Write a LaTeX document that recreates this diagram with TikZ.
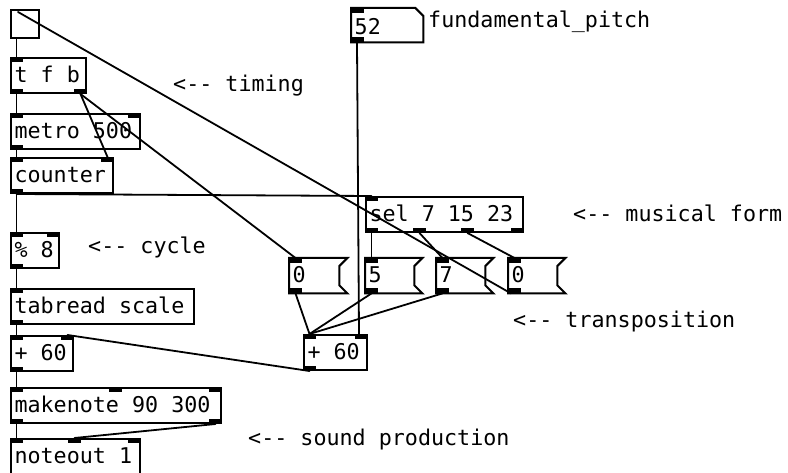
\documentclass[tikz,border=0pt]{standalone}
\usepackage{fontspec}
\newfontfamily\pdfont{DejaVu Sans Mono}
\newcommand\pdt[2]{\makebox[#1][l]{#2}}
\newcommand\pdin[2]{\fill ([xshift=#2]#1.north west) rectangle ++(13pt,-5pt);}
\newcommand\pdinR[1]{\fill ([xshift=-13pt]#1.north east) rectangle ++(13pt,-5pt);}
\newcommand\pdout[2]{\fill ([xshift=#2]#1.south west) rectangle ++(13pt,5pt);}
\newcommand\pdoutR[1]{\fill ([xshift=-13pt]#1.south east) rectangle ++(13pt,5pt);}
\newcommand\msgshape[1]{\draw[boxline] (#1.north west) -- (#1.north east) -- ([xshift=-8pt,yshift=-8pt]#1.north east) -- ([xshift=-8pt,yshift=8pt]#1.south east) -- (#1.south east) -- (#1.south west) -- cycle;}
\newcommand\numshape[1]{\draw[boxline] (#1.north west) -- ([xshift=-8pt]#1.north east) -- ([yshift=-8pt]#1.north east) -- (#1.south east) -- (#1.south west) -- cycle;}
\tikzset{
  pdtext/.style={font=\pdfont\fontsize{21.7}{24}\selectfont},
  boxline/.style={line width=2pt, line join=miter},
  objbox/.style={pdtext, draw=black, boxline, anchor=north west, inner xsep=3.5pt, inner ysep=0pt, text height=18pt, text depth=4pt, minimum height=35pt},
  msgbox/.style={pdtext, draw=none, anchor=north west, inner xsep=3.5pt, inner ysep=0pt, text height=18pt, text depth=4pt, minimum height=35pt},
  comment/.style={pdtext, anchor=base west, inner sep=0pt},
  wire/.style={line width=1.8pt, line cap=round},
}
\begin{document}
\begin{tikzpicture}[x=1pt, y=-1pt]
\useasboundingbox (0,0) rectangle (788,473);
\fill[white] (0,0) rectangle (788,473);

% objects
\node[draw=black, boxline, anchor=north west, inner sep=0pt, minimum size=28pt] (bang) at (10,9) {};
\node[objbox] (tfb) at (10,57) {\pdt{68pt}{t f b}};
\node[objbox] (metro) at (10,113) {\pdt{122pt}{metro 500}};
\node[objbox] (counter) at (10,157) {\pdt{95pt}{counter}};
\node[objbox] (mod) at (10,232) {\pdt{41pt}{\% 8}};
\node[objbox] (tabread) at (10,288) {\pdt{176pt}{tabread scale}};
\node[objbox] (plusL) at (10,335) {\pdt{55pt}{+ 60}};
\node[objbox] (makenote) at (10,387) {\pdt{203pt}{makenote 90 300}};
\node[objbox] (noteout) at (10,438) {\pdt{122pt}{noteout 1}};
\node[msgbox, text height=20pt, text depth=2pt, minimum height=34pt] (num) at (351,8) {\pdt{65pt}{52}};
\numshape{num}
\node[objbox] (sel) at (365,196) {\pdt{150pt}{sel 7 15 23}};
\node[msgbox] (msgA) at (289,258) {\pdt{51pt}{0}};
\node[msgbox] (msgB) at (365,258) {\pdt{50pt}{5}};
\node[msgbox] (msgC) at (436,258) {\pdt{50pt}{7}};
\node[msgbox] (msgD) at (508,258) {\pdt{50pt}{0}};
\msgshape{msgA}
\msgshape{msgB}
\msgshape{msgC}
\msgshape{msgD}
\node[objbox] (plusR) at (303,334) {\pdt{56pt}{+ 60}};

% inlets and outlets
\pdin{tfb}{0pt} \pdout{tfb}{0pt} \pdoutR{tfb}
\pdin{metro}{0pt} \pdinR{metro} \pdout{metro}{0pt}
\pdin{counter}{0pt} \pdinR{counter} \pdout{counter}{0pt}
\pdin{mod}{0pt} \pdinR{mod} \pdout{mod}{0pt}
\pdin{tabread}{0pt} \pdout{tabread}{0pt}
\pdin{plusL}{0pt} \pdinR{plusL} \pdout{plusL}{0pt}
\pdin{makenote}{0pt} \pdin{makenote}{98.5pt} \pdinR{makenote} \pdout{makenote}{0pt} \pdoutR{makenote}
\pdin{noteout}{0pt} \pdin{noteout}{58pt} \pdinR{noteout}
\pdin{num}{0pt} \pdout{num}{0pt}
\pdin{sel}{0pt} \pdout{sel}{0pt} \pdout{sel}{48pt} \pdout{sel}{96pt} \pdoutR{sel}
\pdin{msgA}{0pt} \pdout{msgA}{0pt}
\pdin{msgB}{0pt} \pdout{msgB}{0pt}
\pdin{msgC}{0pt} \pdout{msgC}{0pt}
\pdin{msgD}{0pt} \pdout{msgD}{0pt}
\pdin{plusR}{0pt} \pdinR{plusR} \pdout{plusR}{0pt}

% connections
\draw[wire] ([xshift=6.5pt]bang.south west) -- ([xshift=6.5pt]tfb.north west);
\draw[wire] ([xshift=6.5pt]tfb.south west) -- ([xshift=6.5pt]metro.north west);
\draw[wire] ([xshift=-6.5pt]tfb.south east) -- ([xshift=-6.5pt]counter.north east);
\draw[wire] ([xshift=-6.5pt]tfb.south east) -- ([xshift=6.5pt]msgA.north west);
\draw[wire] ([xshift=6.5pt]metro.south west) -- ([xshift=6.5pt]counter.north west);
\draw[wire] ([xshift=6.5pt]counter.south west) -- ([xshift=6.5pt]mod.north west);
\draw[wire] ([xshift=6.5pt]counter.south west) -- ([xshift=6.5pt]sel.north west);
\draw[wire] ([xshift=6.5pt]mod.south west) -- ([xshift=6.5pt]tabread.north west);
\draw[wire] ([xshift=6.5pt]tabread.south west) -- ([xshift=6.5pt]plusL.north west);
\draw[wire] ([xshift=6.5pt]plusL.south west) -- ([xshift=6.5pt]makenote.north west);
\draw[wire] ([xshift=6.5pt]makenote.south west) -- ([xshift=6.5pt]noteout.north west);
\draw[wire] ([xshift=-6.5pt]makenote.south east) -- ([xshift=64.5pt]noteout.north west);
\draw[wire] ([xshift=6pt]num.south west) -- ([xshift=-9pt]plusR.north east);
\draw[wire] ([xshift=6.5pt]sel.south west) -- ([xshift=6.5pt]msgB.north west);
\draw[wire] ([xshift=54.5pt]sel.south west) -- ([xshift=6.5pt]msgC.north west);
\draw[wire] ([xshift=102.5pt]sel.south west) -- ([xshift=6.5pt]msgD.north west);
\draw[wire] ([xshift=6.5pt]msgA.south west) -- ([xshift=6.5pt]plusR.north west);
\draw[wire] ([xshift=6.5pt]msgB.south west) -- ([xshift=6.5pt]plusR.north west);
\draw[wire] ([xshift=6.5pt]msgC.south west) -- ([xshift=6.5pt]plusR.north west);
\draw[wire] ([xshift=3pt]msgD.south west) -- ([xshift=8pt,yshift=-3pt]bang.north west);
\draw[wire] ([xshift=6.5pt]plusR.south west) -- ([xshift=-6.5pt]plusL.north east);

% comments
\node[comment] (cTiming) at (173,92) {<-- timing};
\node[comment] (cFund) at (428,28) {fundamental\_pitch};
\node[comment] (cForm) at (573,222) {<-- musical form};
\node[comment] (cCycle) at (88,254) {<-- cycle};
\node[comment] (cTrans) at (513,327) {<-- transposition};
\node[comment] (cSound) at (248,445) {<-- sound production};
\end{tikzpicture}
\end{document}
